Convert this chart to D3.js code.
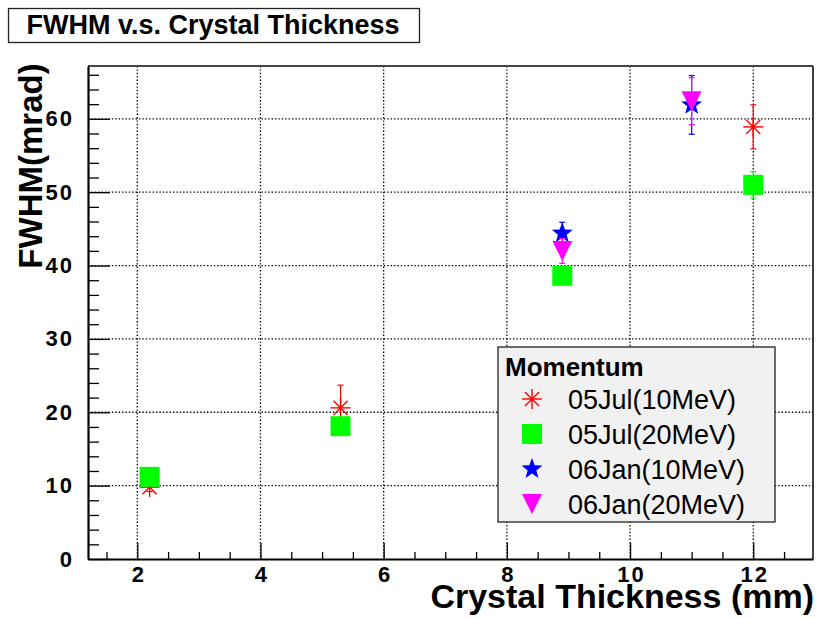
<!DOCTYPE html>
<html>
<head>
<meta charset="utf-8">
<script src="https://cdn.jsdelivr.net/npm/d3@7"></script>
<style>
  html, body { margin: 0; padding: 0; background: #fff; }
  svg { display: block; font-family: "Liberation Sans", Arial, Helvetica, sans-serif; }
</style>
</head>
<body>
<svg id="chart" width="819" height="618"></svg>
<script>
// FWHM of the beam profile versus crystal thickness, four measurement runs
const runLabels = ["05Jul(10MeV)", "05Jul(20MeV)", "06Jan(10MeV)", "06Jan(20MeV)"];

const jul10Thickness = [2.2, 5.3, 12.0];
const jul10Fwhm      = [9.8, 20.6, 58.9];
const jul10Err       = [0.6, 3.1, 3.0];

const jul20Thickness = [2.2, 5.3, 8.9, 12.0];
const jul20Fwhm      = [11.2, 18.1, 38.6, 51.0];
const jul20Err       = [0.8, 1.0, 1.0, 1.8];

const jan10Thickness = [8.9, 11.0];
const jan10Fwhm      = [44.4, 61.9];
const jan10Err       = [1.5, 4.0];

const jan20Thickness = [8.9, 11.0];
const jan20Fwhm      = [42.0, 62.4];
const jan20Err       = [1.7, 3.2];

const xMajorTicks = [2, 4, 6, 8, 10, 12];
const yMajorTicks = [0, 10, 20, 30, 40, 50, 60];

const titleText = "FWHM v.s. Crystal Thickness";
const xTitle = "Crystal Thickness (mm)";
const yTitle = "FWHM(mrad)";
const legendTitle = "Momentum";

// ---- layout ----
const W = 819, H = 618;
const margin = { left: 88, top: 66, right: 6, bottom: 59 };
const pw = W - margin.left - margin.right;
const ph = H - margin.top - margin.bottom;

const svg = d3.select("#chart");
const g = svg.append("g").attr("transform", `translate(${margin.left},${margin.top})`);

const x = d3.scaleLinear().domain([1.2, 12.97]).range([0, pw]);
const y = d3.scaleLinear().domain([0, 67.2]).range([ph, 0]);

const xMinor = d3.range(1.5, 13.0, 0.5).filter(v => !xMajorTicks.includes(v));
const yMinor = d3.range(2, 67, 2).filter(v => !yMajorTicks.includes(v));

// dotted grid at major ticks
g.append("g").selectAll("line.vx").data(xMajorTicks).join("line")
  .attr("x1", d => x(d)).attr("x2", d => x(d))
  .attr("y1", 0).attr("y2", ph)
  .attr("stroke", "#000").attr("stroke-width", 1.3).attr("stroke-dasharray", "1.4,2");
g.append("g").selectAll("line.hy").data(yMajorTicks.filter(v => v > 0)).join("line")
  .attr("x1", 0).attr("x2", pw)
  .attr("y1", d => y(d)).attr("y2", d => y(d))
  .attr("stroke", "#000").attr("stroke-width", 1.3).attr("stroke-dasharray", "1.4,2");

// frame: top and right edges
g.append("line").attr("x1", 0).attr("x2", pw).attr("y1", 0).attr("y2", 0)
  .attr("stroke", "#444").attr("stroke-width", 2.2);
g.append("line").attr("x1", pw).attr("x2", pw).attr("y1", 0).attr("y2", ph)
  .attr("stroke", "#111").attr("stroke-width", 1.6);

// axes: ticks point into the plot
const xAxis = g.append("g").attr("transform", `translate(0,${ph})`)
  .call(d3.axisBottom(x).tickValues(xMajorTicks).tickFormat(d3.format("d"))
    .tickSizeInner(-16).tickSizeOuter(0).tickPadding(7));
g.append("g").attr("transform", `translate(0,${ph})`)
  .call(d3.axisBottom(x).tickValues(xMinor).tickFormat("").tickSizeInner(-7).tickSizeOuter(0))
  .select(".domain").remove();

const yAxis = g.append("g")
  .call(d3.axisLeft(y).tickValues(yMajorTicks).tickFormat(d3.format("d"))
    .tickSizeInner(-22).tickSizeOuter(0).tickPadding(14));
g.append("g")
  .call(d3.axisLeft(y).tickValues(yMinor).tickFormat("").tickSizeInner(-11).tickSizeOuter(0))
  .select(".domain").remove();

svg.selectAll(".tick line").attr("stroke", "#000").attr("stroke-width", 1.3);
xAxis.select(".domain").attr("stroke", "#000").attr("stroke-width", 2.2);
yAxis.select(".domain").attr("stroke", "#000").attr("stroke-width", 2.2);
[xAxis, yAxis].forEach(a => a.selectAll("text")
  .attr("font-size", 22).attr("font-weight", "bold").attr("fill", "#000")
  .attr("font-family", "'Liberation Sans', Arial, sans-serif")
  .attr("letter-spacing", "2px"));
xAxis.selectAll("text").attr("dx", "1px");

// ---- marker shapes ----
function starPath(ro, ri) {
  const pts = [];
  for (let i = 0; i < 10; i++) {
    const r = i % 2 === 0 ? ro : ri;
    const a = -Math.PI / 2 + i * Math.PI / 5;
    pts.push([r * Math.cos(a), r * Math.sin(a)]);
  }
  return "M" + pts.map(p => p[0].toFixed(2) + "," + p[1].toFixed(2)).join("L") + "Z";
}
function asterisk(sel, color) {
  const r = 10, d = r * Math.SQRT1_2;
  const segs = [[-r, 0, r, 0], [0, -r, 0, r], [-d, -d, d, d], [-d, d, d, -d]];
  sel.selectAll("line.arm").data(segs).join("line").attr("class", "arm")
    .attr("x1", s => s[0]).attr("y1", s => s[1]).attr("x2", s => s[2]).attr("y2", s => s[3])
    .attr("stroke", color).attr("stroke-width", 1.4);
  sel.append("circle").attr("r", 1.6).attr("fill", color);
}
const drawMarker = {
  asterisk: (sel, color) => asterisk(sel, color),
  square: (sel, color) => sel.append("rect").attr("x", -10).attr("y", -10)
    .attr("width", 20).attr("height", 20).attr("fill", color),
  star: (sel, color) => sel.append("path").attr("d", starPath(11, 4.6)).attr("fill", color),
  triangle: (sel, color) => sel.append("path").attr("d", "M-10,-10L10,-10L0,10Z").attr("fill", color)
};

const series = [
  { name: runLabels[0], xs: jul10Thickness, ys: jul10Fwhm, es: jul10Err, color: "#ff0000", shape: "asterisk" },
  { name: runLabels[1], xs: jul20Thickness, ys: jul20Fwhm, es: jul20Err, color: "#00ff00", shape: "square" },
  { name: runLabels[2], xs: jan10Thickness, ys: jan10Fwhm, es: jan10Err, color: "#0000ff", shape: "star" },
  { name: runLabels[3], xs: jan20Thickness, ys: jan20Fwhm, es: jan20Err, color: "#ff00ff", shape: "triangle" }
];

// ---- data points with error bars ----
series.forEach(s => {
  const pts = s.xs.map((xv, i) => ({ x: xv, y: s.ys[i], e: s.es[i] }));
  const sg = g.append("g");
  const eb = sg.selectAll("g.err").data(pts).join("g").attr("class", "err");
  eb.append("line")
    .attr("x1", d => x(d.x)).attr("x2", d => x(d.x))
    .attr("y1", d => y(d.y + d.e)).attr("y2", d => y(d.y - d.e))
    .attr("stroke", s.color).attr("stroke-width", 1.2);
  [1, -1].forEach(sgn => eb.append("line")
    .attr("x1", d => x(d.x) - 3).attr("x2", d => x(d.x) + 3)
    .attr("y1", d => y(d.y + sgn * d.e)).attr("y2", d => y(d.y + sgn * d.e))
    .attr("stroke", s.color).attr("stroke-width", 1.2));
  sg.selectAll("g.mk").data(pts).join("g").attr("class", "mk")
    .attr("transform", d => `translate(${x(d.x)},${y(d.y)})`)
    .each(function () { drawMarker[s.shape](d3.select(this), s.color); });
});

// ---- legend ----
const lg = svg.append("g").attr("transform", "translate(498,347)");
lg.append("rect").attr("width", 277).attr("height", 175)
  .attr("fill", "#f1f1f1").attr("stroke", "#222").attr("stroke-width", 1.3);
lg.append("text").attr("x", 7).attr("y", 29).text(legendTitle)
  .attr("font-size", 26).attr("font-weight", "bold").attr("fill", "#000");
series.forEach((s, i) => {
  const cy = 52 + i * 35;
  const mk = lg.append("g").attr("transform", `translate(34,${cy})`);
  drawMarker[s.shape](mk, s.color);
  lg.append("text").attr("x", 70).attr("y", cy + 9.5).text(s.name)
    .attr("font-size", 27).attr("fill", "#000");
});

// ---- titles ----
const tb = svg.append("g");
tb.append("rect").attr("x", 8.5).attr("y", 8.5).attr("width", 411).attr("height", 34)
  .attr("fill", "#fff").attr("stroke", "#222").attr("stroke-width", 1.3);
tb.append("text").attr("x", 213).attr("y", 34).attr("text-anchor", "middle")
  .text(titleText).attr("font-size", 27).attr("font-weight", "bold").attr("fill", "#000");

svg.append("text").attr("x", 814).attr("y", 608).attr("text-anchor", "end")
  .text(xTitle).attr("font-size", 34).attr("font-weight", "bold").attr("fill", "#000");

svg.append("text").attr("transform", "translate(42,166) rotate(-90)")
  .attr("text-anchor", "middle")
  .text(yTitle).attr("font-size", 33).attr("font-weight", "bold").attr("fill", "#000");
</script>
</body>
</html>
